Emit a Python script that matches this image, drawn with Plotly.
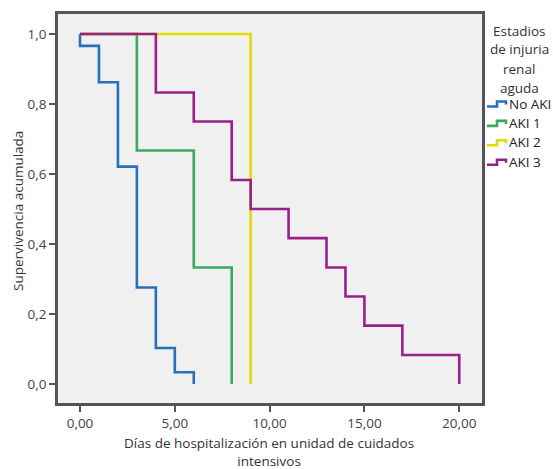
import plotly.graph_objects as go

# Kaplan-Meier estimates (time in days, cumulative survival)
groups = ["No AKI", "AKI 1", "AKI 2", "AKI 3"]
colors = ["#2a6fba", "#3aaa60", "#e0dd00", "#9b1f8a"]

t_noaki = [0, 0, 1, 2, 3, 4, 5, 6]
s_noaki = [1.0, 0.966, 0.862, 0.621, 0.276, 0.103, 0.034, 0.0]

t_aki1 = [0, 3, 6, 8]
s_aki1 = [1.0, 0.667, 0.333, 0.0]

t_aki2 = [0, 9]
s_aki2 = [1.0, 0.0]

t_aki3 = [0, 4, 6, 8, 9, 11, 13, 14, 15, 17, 20]
s_aki3 = [1.0, 0.833, 0.75, 0.583, 0.5, 0.417, 0.333, 0.25, 0.167, 0.083, 0.0]

x_ticks = [0, 5, 10, 15, 20]
y_ticks = [0.0, 0.2, 0.4, 0.6, 0.8, 1.0]

series = [(t_noaki, s_noaki), (t_aki1, s_aki1), (t_aki2, s_aki2), (t_aki3, s_aki3)]

FONT = "Open Sans"
W, H = 553, 469
# plot area in page pixels
L, R, T, B = 58, 482, 14, 403

fig = go.Figure()
for idx in [0, 1, 2, 3]:
    tx, sy = series[idx]
    fig.add_trace(go.Scatter(x=tx, y=sy, mode="lines", line=dict(shape="hv", color=colors[idx], width=2.6),
                             name=groups[idx], showlegend=False, hoverinfo="skip"))

def px(xp):
    return (xp - L) / (R - L)

def py(yp):
    return (B - yp) / (B - T)

shapes = []
annotations = []
title_lines = ["Estadios", "de injuria", "renal", "aguda"]
for i, ln in enumerate(title_lines):
    annotations.append(dict(text=ln, x=px(519), y=py(30.5 + i * 19.0), xref="paper", yref="paper",
                            showarrow=False, xanchor="center", yanchor="middle",
                            font=dict(family=FONT, size=13.5, color="#333333")))
for i, g in enumerate(groups):
    yc = 103.5 + i * 19.4
    x0, x1, x2 = 487, 497, 506
    path = (f"M {px(x0)},{py(yc+3)} L {px(x1)},{py(yc+3)} L {px(x1)},{py(yc-2)} "
            f"L {px(x2)},{py(yc-2)} L {px(x2)},{py(yc+1)}")
    shapes.append(dict(type="path", path=path, xref="paper", yref="paper",
                       line=dict(color=colors[i], width=2.6)))
    annotations.append(dict(text=g, x=px(507), y=py(yc), xref="paper", yref="paper",
                            showarrow=False, xanchor="left", yanchor="middle",
                            font=dict(family=FONT, size=13.5, color="#222222")))

annotations.append(dict(text="Días de hospitalización en unidad de cuidados<br>intensivos",
                        x=px(269), y=py(452), xref="paper", yref="paper", showarrow=False,
                        xanchor="center", yanchor="middle",
                        font=dict(family=FONT, size=13.5, color="#333333")))
annotations.append(dict(text="Supervivencia acumulada", x=px(18), y=py(211), xref="paper", yref="paper",
                        showarrow=False, textangle=-90, xanchor="center", yanchor="middle",
                        font=dict(family=FONT, size=13.5, color="#333333")))

fig.update_layout(
    width=W, height=H,
    margin=dict(l=L, r=W - R, t=T, b=H - B, pad=0),
    paper_bgcolor="white", plot_bgcolor="#f0f0f0",
    separators=", ",
    shapes=shapes, annotations=annotations,
    font=dict(family=FONT, size=13.5, color="#444444"),
)
fig.update_xaxes(range=[-1.16, 21.2], tickvals=x_ticks, tickformat=".2f", ticks="outside", ticklen=6,
                 tickwidth=2, tickcolor="#555555", showgrid=False, zeroline=False,
                 showline=True, linecolor="#555555", linewidth=2.5, mirror=True)
fig.update_yaxes(range=[-0.054, 1.057], tickvals=y_ticks, tickformat=".1f", ticks="outside", ticklen=6,
                 tickwidth=2, tickcolor="#555555", showgrid=False, zeroline=False,
                 showline=True, linecolor="#555555", linewidth=2.5, mirror=True)

fig.write_html("out.html", config={"displayModeBar": False},
               post_script="document.body.style.margin='0px';document.body.style.overflow='hidden';")
